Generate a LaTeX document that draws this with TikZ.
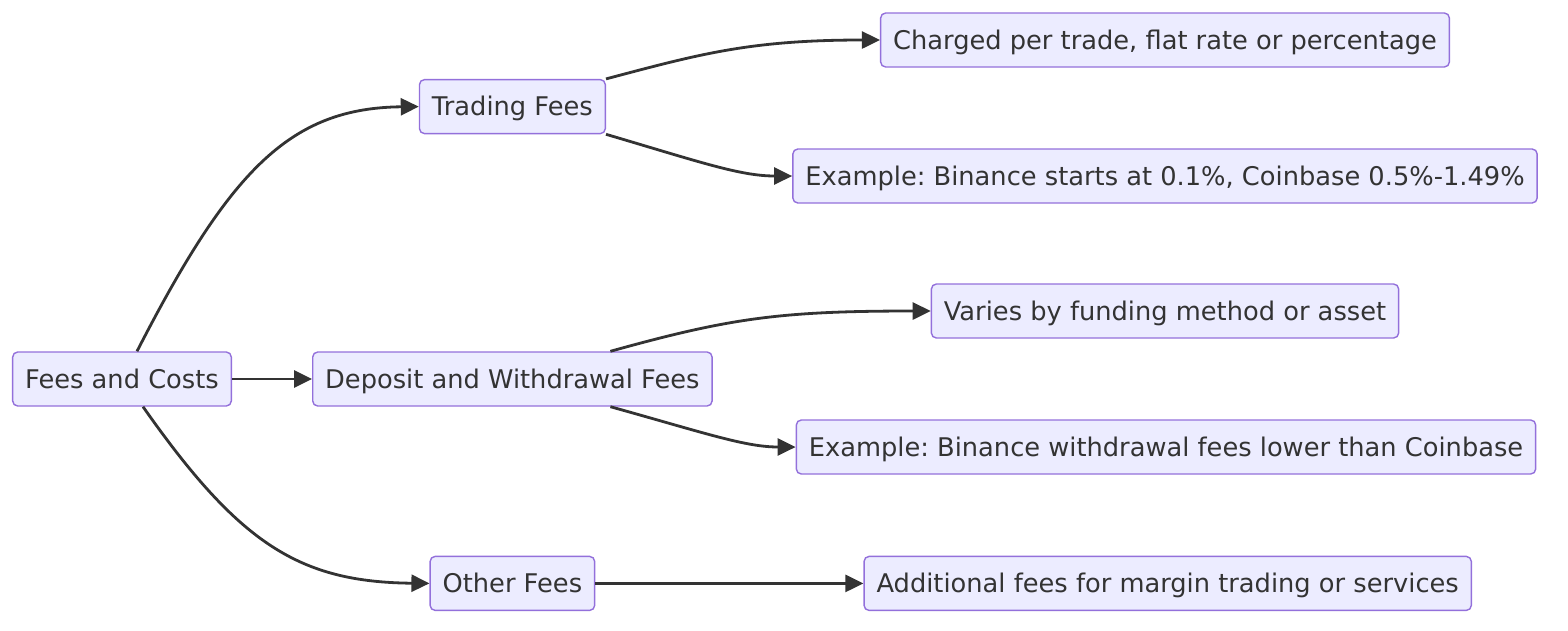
\documentclass[tikz,border=0pt]{standalone}
\usepackage{fontspec}
\setmainfont{DejaVu Sans}
\usetikzlibrary{positioning,arrows.meta,calc}
\frenchspacing

\definecolor{boxfill}{HTML}{ECECFF}
\definecolor{boxline}{HTML}{9370DB}
\definecolor{ink}{HTML}{333333}

\begin{document}
\begin{tikzpicture}[x=1pt,y=-1pt]

				\tikzset{every node/.style={font=\fontsize{25.7}{30}\selectfont,text=ink}}
				\tikzset{feebox/.style={rectangle,draw=boxline,fill=boxfill,line width=1.4pt,rounded corners=5pt,minimum height=54pt,inner xsep=12.5pt,text height=20pt,text depth=2pt}}
				\tikzset{link/.style={draw=ink,line width=2.8pt,-{Triangle[length=18pt,width=17pt]}}}
				\useasboundingbox (0,0) rectangle (1568,630);

				\node[feebox] (fees) at (122,379) {Fees and Costs};
				\node[feebox, right=80pt of fees] (deposit) {Deposit and Withdrawal Fees};
				\node[feebox, above=217pt of deposit] (trading) {Trading Fees};
				\node[feebox, below=149pt of deposit] (other) {Other Fees};

				\node[feebox] (charged) at (1165,40) {Charged per trade, flat rate or percentage};
				\node[feebox] (binance) at (1165,176) {Example: Binance starts at 0.1\%, Coinbase 0.5\%-1.49\%};
				\node[feebox] (varies) at (1165,311) {Varies by funding method or asset};
				\node[feebox] (withdraw) at (1166,447) {Example: Binance withdrawal fees lower than Coinbase};
				\node[feebox, right=268pt of other] (additional) {Additional fees for margin trading or services};

				% first level
				\draw[link] ($(fees.north)+(15,0)$) .. controls (230,170) and (290,108) .. (trading.west);
				\draw[link] (fees.east) -- (deposit.west);
				\draw[link] ($(fees.south)+(21,0)$) .. controls (240,545) and (300,582) .. (other.west);

				% second level
				\draw[link] (trading.north east) .. controls (700,54) and (750,40) .. (charged.west);
				\draw[link] (trading.south east) .. controls (700,162) and (740,176) .. (binance.west);
				\draw[link] ($(deposit.north)+(98,0)$) .. controls (730,318) and (780,311) .. (varies.west);
				\draw[link] ($(deposit.south)+(98,0)$) .. controls (705,433) and (745,447) .. (withdraw.west);
				\draw[link] (other.east) -- (additional.west);

			\end{tikzpicture}
\end{document}
